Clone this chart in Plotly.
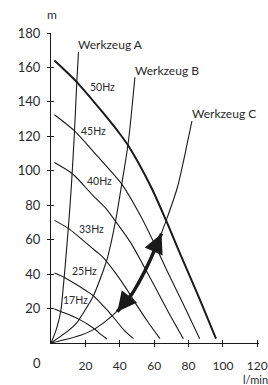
import plotly.graph_objects as go

# Pump curves (Q in l/min, H in m)
q50 = [2, 15, 30, 40, 45, 58, 67, 75, 85, 96]
h50 = [164, 151.5, 134, 121.5, 114.5, 91, 71, 52, 29, 2.5]
q45 = [2, 13.8, 27, 36, 41, 52, 60, 67.5, 76.5, 86.5]
h45 = [132.5, 123, 108.5, 98.5, 92.5, 74, 58, 42, 23.5, 2.5]
q40 = [2, 12.8, 24, 32, 37.3, 46.5, 53.5, 60, 68, 77]
h40 = [104.8, 98, 86, 78, 71, 58, 45.5, 33.5, 18.5, 2.5]
q33 = [2, 10.9, 20, 26.5, 30, 38.3, 44.2, 49.5, 56, 63.4]
h33 = [71.2, 66, 58.4, 53, 50, 39.6, 31, 22.6, 12.8, 2.5]
q25 = [2, 7.5, 15, 20, 24.5, 29, 33.5, 37.5, 42.5, 48]
h25 = [40.6, 38.2, 33.8, 30.6, 27.6, 23, 18.2, 13.5, 7.5, 2.5]
q17 = [2, 6, 12, 17.7, 22, 25.5, 29, 32.5]
h17 = [19.8, 18.2, 15.8, 13, 10.5, 8, 5, 2.3]

# System curves (Werkzeug A, B, C)
qa = [0, 3, 5.7, 7, 7.8, 8.8, 10.1, 11.8, 13.7, 15, 16]
ha = [0, 7.6, 18.6, 31, 39.6, 51.3, 67, 90.3, 123.5, 151.4, 169]
qb = [0, 9.9, 14.8, 21.6, 24.5, 30.3, 33, 37.5, 41.2, 44.9, 48.8]
hb = [0, 7, 11.5, 22, 27, 41.8, 50, 70.6, 92.5, 116, 154.3]
qc = [0, 17.7, 25.5, 36.2, 46.8, 54.6, 62.4, 66.9, 73.5, 79.6, 82]
hc = [0, 4.7, 8.2, 16.3, 28.1, 41.8, 59.2, 70.9, 90.3, 117.5, 128.9]

# Thick double arrow along Werkzeug C
q_arrow = [38.6, 42, 46.8, 50.7, 54.6, 58.5, 62.4, 64.3]
h_arrow = [18.2, 22.5, 28.1, 34.5, 41.8, 50, 59.2, 63.5]

freq_labels = ["50Hz", "45Hz", "40Hz", "33Hz", "25Hz", "17Hz"]
freq_label_q = [30.2, 25, 28.3, 23.4, 19.4, 14.5]
freq_label_h = [148.7, 123.1, 94, 66.2, 41.7, 25]

tool_labels = ["Werkzeug A", "Werkzeug B", "Werkzeug C"]
tool_label_q = [14.6, 47.8, 80.9]
tool_label_h = [173.6, 158.4, 133.2]

x_ticks = [20, 40, 60, 80, 100, 120]
y_ticks = [20, 40, 60, 80, 100, 120, 140, 160, 180]

INK = "#1a1a1a"
TXT = "#2a2a2a"
FONT = "Lato"

fig = go.Figure()

def curve(q, h, w):
    fig.add_trace(go.Scatter(x=q, y=h, mode="lines",
                             line=dict(color=INK, width=w, shape="spline", smoothing=0.8),
                             hoverinfo="skip", showlegend=False))

curve(q50, h50, 2)
for q, h in [(q45, h45), (q40, h40), (q33, h33), (q25, h25), (q17, h17)]:
    curve(q, h, 1.1)
for q, h in [(qa, ha), (qb, hb), (qc, hc)]:
    curve(q, h, 1.1)

fig.add_trace(go.Scatter(x=q_arrow, y=h_arrow, mode="lines",
                         line=dict(color=INK, width=3.5, shape="spline"),
                         hoverinfo="skip", showlegend=False))

# dummy trace for overlay axes (cross ticks)
fig.add_trace(go.Scatter(x=[None], y=[None], xaxis="x2", yaxis="y2",
                         showlegend=False, hoverinfo="skip"))

ann = []
# arrow heads
ann.append(dict(x=q_arrow[-1], y=h_arrow[-1], ax=q_arrow[-2], ay=h_arrow[-2],
                xref="x", yref="y", axref="x", ayref="y", text="", showarrow=True,
                arrowhead=2, arrowsize=1.3, arrowwidth=3, arrowcolor=INK))
ann.append(dict(x=q_arrow[0], y=h_arrow[0], ax=q_arrow[1], ay=h_arrow[1],
                xref="x", yref="y", axref="x", ayref="y", text="", showarrow=True,
                arrowhead=2, arrowsize=1.3, arrowwidth=3, arrowcolor=INK))

for t, q, h in zip(freq_labels, freq_label_q, freq_label_h):
    ann.append(dict(x=q, y=h, text=t, showarrow=False, xanchor="center", yanchor="middle",
                    font=dict(family=FONT, size=10.5, color=TXT)))
for t, q, h in zip(tool_labels, tool_label_q, tool_label_h):
    ann.append(dict(x=q, y=h, text=t, showarrow=False, xanchor="left", yanchor="middle",
                    font=dict(family=FONT, size=12, color=TXT)))

ann.append(dict(xref="paper", yref="paper", x=0.005, y=1.061, text="m", showarrow=False,
                xanchor="center", yanchor="middle", font=dict(family=FONT, size=12, color=TXT)))
ann.append(dict(xref="paper", yref="paper", x=0.984, y=-0.117, text="l/min", showarrow=False,
                xanchor="center", yanchor="middle", font=dict(family=FONT, size=11, color=TXT)))
ann.append(dict(xref="paper", yref="paper", x=-0.067, y=-0.0645, text="0", showarrow=False,
                xanchor="center", yanchor="middle", font=dict(family=FONT, size=13, color=TXT)))

axis_common = dict(showgrid=False, zeroline=False, color=INK, automargin=False)

fig.update_layout(
    width=268, height=385,
    margin=dict(l=51, r=9, t=33, b=42, autoexpand=False),
    paper_bgcolor="white", plot_bgcolor="white",
    font=dict(family=FONT, size=13, color=TXT),
    xaxis=dict(range=[0, 121], tickvals=x_ticks, ticktext=[str(v) for v in x_ticks],
               ticks="outside", ticklen=3, tickwidth=1, tickcolor=INK,
               showline=True, linecolor=INK, linewidth=1, ticklabelstandoff=9,
               ticklabeloverflow="allow",
               tickfont=dict(family=FONT, size=12, color=TXT), **axis_common),
    yaxis=dict(range=[0, 180], tickvals=y_ticks, ticktext=[str(v) for v in y_ticks],
               ticks="outside", ticklen=3, tickwidth=1, tickcolor=INK,
               showline=True, linecolor=INK, linewidth=1, ticklabelstandoff=4,
               ticklabeloverflow="allow",
               tickfont=dict(family=FONT, size=13, color=TXT), **axis_common),
    xaxis2=dict(range=[0, 121], overlaying="x", tickvals=x_ticks, ticks="inside", ticklen=3,
                tickwidth=1, tickcolor=INK, showticklabels=False, showline=False, **axis_common),
    yaxis2=dict(range=[0, 180], overlaying="y", tickvals=y_ticks, ticks="inside", ticklen=3,
                tickwidth=1, tickcolor=INK, showticklabels=False, showline=False, **axis_common),
    annotations=ann,
    showlegend=False,
)

# remove the default page margin so the 268x385 figure fills the window exactly
fig.write_html("out.html",
               config={"displayModeBar": False, "staticPlot": True},
               post_script="document.body.style.margin='0';"
                           "document.documentElement.style.overflow='hidden';"
                           "document.body.style.overflow='hidden';")
